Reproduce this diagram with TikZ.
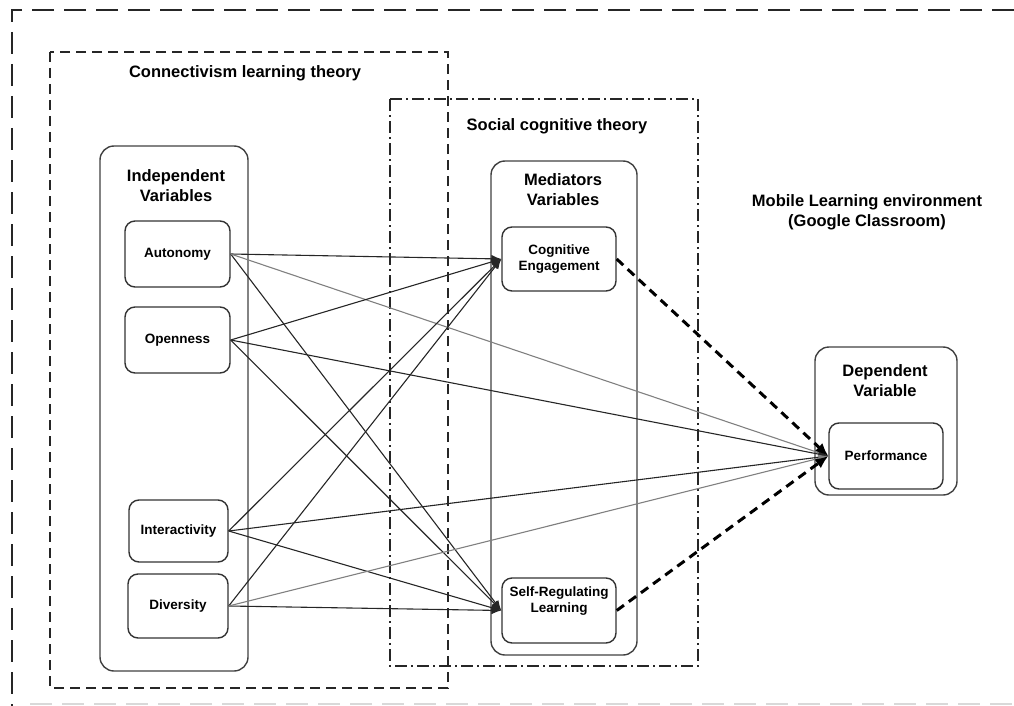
\documentclass[tikz,border=0pt]{standalone}
\usepackage{fontspec}
\setmainfont{Liberation Sans}
\usetikzlibrary{arrows.meta,positioning}

\begin{document}
\begin{tikzpicture}[x=1pt, y=-1pt,
  varbox/.style={draw=black!75, line width=1.4pt, rounded corners=14pt, inner sep=0pt},
  itembox/.style={draw=black!80, line width=1.4pt, rounded corners=10pt, inner sep=0pt, align=center, font=\bfseries\fontsize{13.5}{16}\selectfont},
  titletext/.style={inner sep=0pt, align=center, font=\bfseries\fontsize{16.5}{20}\selectfont},
  link/.style={draw=black!85, line width=1.1pt, -{Latex[length=10pt,width=8pt]}},
  faintlink/.style={link, draw=black!50},
  effect/.style={draw=black, line width=3pt, dash pattern=on 9pt off 6pt, -{Latex[length=13pt,width=11pt]}}]

\useasboundingbox (0,0) rectangle (1014,706);

% frames
\draw[line width=2pt, dash pattern=on 22pt off 10pt, draw=black!85] (1014,10) -- (12,10) -- (12,706);
\draw[line width=1.5pt, dash pattern=on 22pt off 10pt, draw=black!15] (30,704) -- (1014,704);
\draw[line width=1.3pt, dash pattern=on 10pt off 6pt, draw=black!85] (50,52) rectangle (448,688);
\draw[line width=1.2pt, dash pattern=on 12pt off 4pt on 2pt off 4pt, draw=black!85] (390,99) rectangle (698,666);

\node[titletext] at (245,73) (connectivism) {Connectivism learning theory};
\node[titletext] at (557,126) (socialcog) {Social cognitive theory};
\node[titletext] at (867,212) (mobile) {Mobile Learning environment\\(Google Classroom)};

\node[varbox, minimum width=148pt, minimum height=525pt] at (174,408.5) (indbox) {};
\node[titletext] at (176,186) (indtitle) {Independent\\Variables};
\node[itembox, minimum width=105pt, minimum height=66pt] at (177.5,254) (autonomy) {Autonomy};
\node[itembox, minimum width=105pt, minimum height=66pt] at (177.5,340) (openness) {Openness};
\node[itembox, minimum width=99pt, minimum height=62pt] at (178.5,531) (interactivity) {Interactivity};
\node[itembox, minimum width=100pt, minimum height=64pt] at (178,606) (diversity) {Diversity};

\node[varbox, minimum width=146pt, minimum height=494pt] at (564,408) (medbox) {};
\node[titletext] at (563,190) (medtitle) {Mediators\\Variables};
\node[itembox, minimum width=114pt, minimum height=64pt] at (559,259) (cogeng) {Cognitive\\Engagement};
\node[itembox, minimum width=114pt, minimum height=65pt] at (559,610.5) (selfreg) {Self-Regulating\\Learning\\[6pt]\mbox{}};

\node[varbox, minimum width=142pt, minimum height=148pt] at (886,421) (depbox) {};
\node[titletext] at (885,381) (deptitle) {Dependent\\Variable};
\node[itembox, minimum width=114pt, minimum height=66pt] at (886,456) (performance) {Performance};

\draw[link] (autonomy.east) -- (cogeng.west);
\draw[link] (autonomy.east) -- (selfreg.west);
\draw[faintlink] (autonomy.east) -- (performance.west);
\draw[link] (openness.east) -- (cogeng.west);
\draw[link] (openness.east) -- (selfreg.west);
\draw[link] (openness.east) -- (performance.west);
\draw[link] (interactivity.east) -- (cogeng.west);
\draw[link] (interactivity.east) -- (selfreg.west);
\draw[link] (interactivity.east) -- (performance.west);
\draw[link] (diversity.east) -- (cogeng.west);
\draw[link] (diversity.east) -- (selfreg.west);
\draw[faintlink] (diversity.east) -- (performance.west);

\draw[effect] (cogeng.east) -- (performance.west);
\draw[effect] (selfreg.east) -- (performance.west);

\end{tikzpicture}
\end{document}
